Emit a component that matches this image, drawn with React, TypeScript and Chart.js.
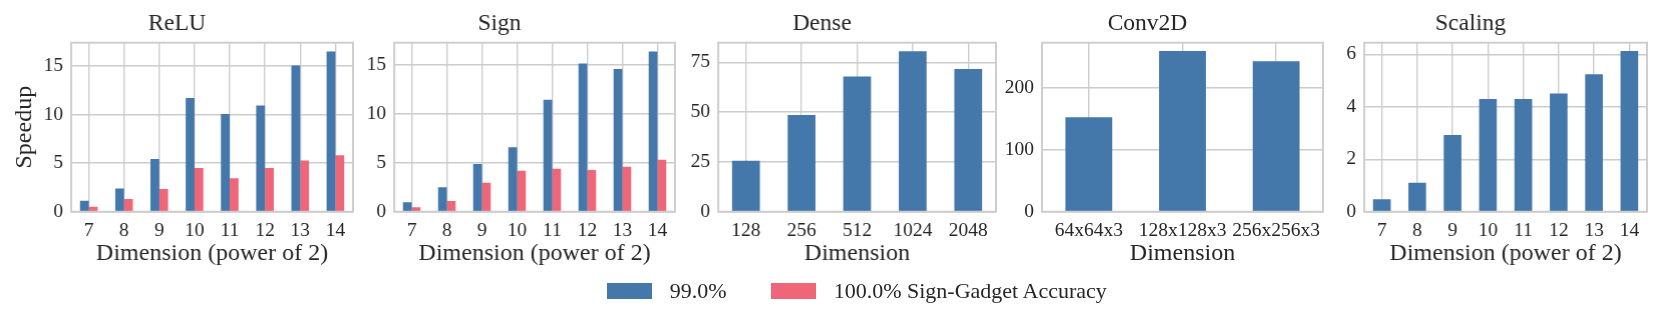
import React, { useEffect, useRef } from "react";
import { Chart, registerables } from "chart.js";

Chart.register(...registerables);

// ---------- data ----------
const powerCategories = ["7", "8", "9", "10", "11", "12", "13", "14"];
const reluBase = [1.13, 2.4, 5.43, 11.7, 10.07, 10.93, 15.05, 16.5];
const reluSign = [0.52, 1.31, 2.34, 4.5, 3.44, 4.5, 5.26, 5.81];
const signBase = [0.96, 2.5, 4.88, 6.6, 11.45, 15.17, 14.6, 16.4];
const signSign = [0.45, 1.09, 2.97, 4.2, 4.4, 4.26, 4.6, 5.32];
const denseCategories = ["128", "256", "512", "1024", "2048"];
const denseBase = [25.6, 48.5, 67.8, 80.5, 71.6];
const convCategories = ["64x64x3", "128x128x3", "256x256x3"];
const convBase = [152, 258.7, 242];
const scalingBase = [0.47, 1.1, 2.92, 4.29, 4.29, 4.5, 5.24, 6.12];

const reluTicks = [0, 5, 10, 15];
const signTicks = [0, 5, 10, 15];
const denseTicks = [0, 25, 50, 75];
const convTicks = [0, 100, 200];
const scalingTicks = [0, 2, 4, 6];

const seriesLabels = ["99.0%", "100.0% Sign-Gadget Accuracy"];
const seriesColors = ["#4477AA", "#EE6677"];

// ---------- style ----------
const FONT = "'Liberation Serif', 'Times New Roman', serif";
const TEXT = "#262626";
const GRID = "#cccccc";
const Y_AXIS_W = 70;
const RIGHT_PAD = 8;
const CANVAS_H = 280;
const PLOT_TOP = 42.7;
const PLOT_BOTTOM = 211.7;

const framePlugin = {
  id: "frame",
  afterDatasetsDraw(chart: any) {
    const { ctx, chartArea } = chart;
    const { left, top, right, bottom } = chartArea;
    ctx.save();
    ctx.strokeStyle = GRID;
    ctx.lineWidth = 1.9;
    ctx.strokeRect(left, top, right - left, bottom - top);
    ctx.restore();
  },
};

type PanelProps = {
  plotLeft: number;
  plotWidth: number;
  title: string;
  xTitle: string;
  yTitle?: string;
  categories: string[];
  series: number[][];
  ticks: number[];
  yMax: number;
};

function Panel(p: PanelProps) {
  const ref = useRef<HTMLCanvasElement | null>(null);
  const cw = p.plotWidth + Y_AXIS_W + RIGHT_PAD;
  useEffect(() => {
    if (!ref.current) return;
    const chart = new Chart(ref.current, {
      type: "bar",
      data: {
        labels: p.categories,
        datasets: p.series.map((vals, i) => ({
          label: seriesLabels[i],
          data: vals,
          backgroundColor: seriesColors[i],
          borderWidth: 0,
          barPercentage: 1,
          categoryPercentage: 0.5,
        })),
      },
      options: {
        responsive: false,
        maintainAspectRatio: false,
        animation: false,
        layout: { padding: { left: 0, right: RIGHT_PAD, top: 0, bottom: 0 } },
        plugins: {
          legend: { display: false },
          tooltip: { enabled: false },
          title: {
            display: true,
            text: p.title,
            color: TEXT,
            font: { family: FONT, size: 23.5, weight: "normal", lineHeight: 1.2 },
            padding: { top: 10, bottom: PLOT_TOP - 10 - 23.5 * 1.2 },
          },
        },
        scales: {
          x: {
            type: "category",
            offset: true,
            grid: { offset: false, color: GRID, lineWidth: 1.4, drawTicks: false },
            border: { display: false },
            ticks: {
              color: TEXT,
              font: { family: FONT, size: 19.5 },
              padding: 7,
              maxRotation: 0,
              autoSkip: false,
            },
            title: {
              display: true,
              text: p.xTitle,
              color: TEXT,
              font: { family: FONT, size: 24, lineHeight: 1.2 },
              padding: { top: 0, bottom: 12 },
            },
            afterFit(s: any) {
              s.height = CANVAS_H - PLOT_BOTTOM;
            },
          },
          y: {
            type: "linear",
            min: 0,
            max: p.yMax,
            grid: { color: GRID, lineWidth: 1.4, drawTicks: false },
            border: { display: false },
            ticks: {
              color: TEXT,
              font: { family: FONT, size: 19.5 },
              padding: 8,
            },
            afterBuildTicks(s: any) {
              s.ticks = p.ticks.map((v) => ({ value: v }));
            },
            title: {
              display: !!p.yTitle,
              text: p.yTitle || "",
              color: TEXT,
              font: { family: FONT, size: 24, lineHeight: 1.2 },
              padding: { top: 9, bottom: 0 },
            },
            afterFit(s: any) {
              s.width = Y_AXIS_W;
            },
          },
        },
      },
      plugins: [framePlugin],
    } as any);
    return () => chart.destroy();
  }, []);
  return (
    <canvas
      ref={ref}
      width={cw}
      height={CANVAS_H}
      style={{
        position: "absolute",
        left: p.plotLeft - Y_AXIS_W,
        top: 0,
        width: cw,
        height: CANVAS_H,
      }}
    />
  );
}

function LegendItem({ x, color, label }: { x: number; color: string; label: string }) {
  return (
    <>
      <div
        style={{
          position: "absolute",
          left: x,
          top: 282.7,
          width: 44.7,
          height: 16,
          background: color,
        }}
      />
      <div
        style={{
          position: "absolute",
          left: x + 62.4,
          top: 278,
          height: 26,
          lineHeight: "26px",
          fontFamily: FONT,
          fontSize: 22,
          color: TEXT,
          whiteSpace: "nowrap",
        }}
      >
        {label}
      </div>
    </>
  );
}

export default function App() {
  return (
    <div
      style={{
        position: "absolute",
        left: 0,
        top: 0,
        width: 1661,
        height: 327,
        background: "#ffffff",
        overflow: "hidden",
      }}
    >
      <Panel
        plotLeft={71}
        plotWidth={281.7}
        title="ReLU"
        xTitle="Dimension (power of 2)"
        yTitle="Speedup"
        categories={powerCategories}
        series={[reluBase, reluSign]}
        ticks={reluTicks}
        yMax={17.4}
      />
      <Panel
        plotLeft={394.3}
        plotWidth={280.7}
        title="Sign"
        xTitle="Dimension (power of 2)"
        categories={powerCategories}
        series={[signBase, signSign]}
        ticks={signTicks}
        yMax={17.3}
      />
      <Panel
        plotLeft={718.3}
        plotWidth={277.7}
        title="Dense"
        xTitle="Dimension"
        categories={denseCategories}
        series={[denseBase]}
        ticks={denseTicks}
        yMax={84.8}
      />
      <Panel
        plotLeft={1041.7}
        plotWidth={281}
        title="Conv2D"
        xTitle="Dimension"
        categories={convCategories}
        series={[convBase]}
        ticks={convTicks}
        yMax={272}
      />
      <Panel
        plotLeft={1364.3}
        plotWidth={282.4}
        title="Scaling"
        xTitle="Dimension (power of 2)"
        categories={powerCategories}
        series={[scalingBase]}
        ticks={scalingTicks}
        yMax={6.44}
      />
      <LegendItem x={607.3} color={seriesColors[0]} label={seriesLabels[0]} />
      <LegendItem x={771.3} color={seriesColors[1]} label={seriesLabels[1]} />
    </div>
  );
}
